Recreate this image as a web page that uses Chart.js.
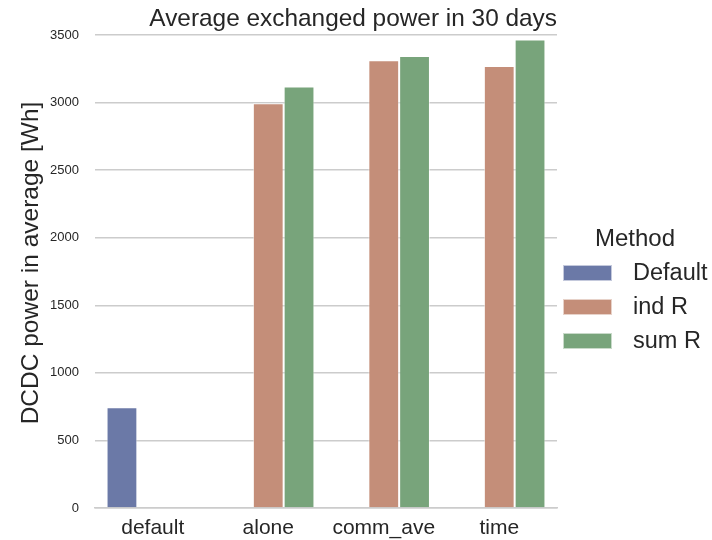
<!DOCTYPE html>
<html>
<head>
<meta charset="utf-8">
<script src="https://cdn.jsdelivr.net/npm/chart.js@4"></script>
<style>
  html, body { margin: 0; padding: 0; background: #fff; }
  #wrap { width: 712px; height: 540px; }
</style>
</head>
<body>
<div id="wrap"><canvas id="powerChart" width="712" height="540"></canvas></div>
<script>
// categories and series
const categories = ["default", "alone", "comm_ave", "time"];
const methods = ["Default", "ind R", "sum R"];
const defaultVals = [745, null, null, null];
const indRVals = [null, 2995, 3313, 3271];
const sumRVals = [null, 3118, 3345, 3466];
const yTicks = [0, 500, 1000, 1500, 2000, 2500, 3000, 3500];

const colors = ["rgb(107,121,167)", "rgb(196,142,121)", "rgb(120,164,123)"];
const textColor = "#262626";
const fontFamily = "'Liberation Sans', Arial, sans-serif";

// y axis title and the legend on the right, placed like the seaborn figure
const sideText = {
  id: "sideText",
  afterDraw(chart) {
    const ctx = chart.ctx;
    ctx.save();
    ctx.fillStyle = textColor;
    ctx.textBaseline = "middle";
    ctx.textAlign = "center";

    ctx.save();
    ctx.translate(31, 263);
    ctx.rotate(-Math.PI / 2);
    ctx.font = "24.5px " + fontFamily;
    ctx.fillText("DCDC power in average [Wh]", 0, 0);
    ctx.restore();

    ctx.font = "24px " + fontFamily;
    ctx.fillText("Method", 635, 239);
    ctx.textAlign = "left";
    ctx.font = "23.5px " + fontFamily;
    chart.data.datasets.forEach((ds, i) => {
      const y = 273 + i * 34;
      ctx.fillStyle = ds.backgroundColor;
      ctx.fillRect(563, y - 8, 49, 16);
      ctx.strokeStyle = "rgba(255,255,255,0.6)";
      ctx.lineWidth = 1;
      ctx.strokeRect(563.5, y - 7.5, 48, 15);
      ctx.fillStyle = textColor;
      ctx.fillText(ds.label, 633, y + 1);
    });
    ctx.restore();
  }
};

const ctx = document.getElementById("powerChart").getContext("2d");
new Chart(ctx, {
  type: "bar",
  data: {
    labels: categories,
    datasets: [
      { label: methods[0], data: defaultVals },
      { label: methods[1], data: indRVals },
      { label: methods[2], data: sumRVals }
    ].map((ds, i) => ({
      ...ds,
      backgroundColor: colors[i],
      borderColor: "rgba(255,255,255,0.55)",
      borderWidth: 1,
      categoryPercentage: 0.8,
      barPercentage: 1.0
    }))
  },
  options: {
    responsive: false,
    animation: false,
    layout: { padding: { left: 0, right: 155, top: 0, bottom: 0 } },
    plugins: {
      legend: { display: false },
      tooltip: { enabled: false },
      title: {
        display: true,
        text: "Average exchanged power in 30 days",
        align: "end",
        color: textColor,
        font: { family: fontFamily, size: 24.4, weight: "normal" },
        padding: { top: 5, bottom: 0.7 }
      }
    },
    scales: {
      x: {
        grid: { display: false, drawTicks: false },
        border: { display: true, color: "#cccccc", width: 1.5 },
        ticks: {
          color: textColor,
          font: { family: fontFamily, size: 21 },
          padding: 8
        },
        afterFit(scale) { scale.height = 32; }
      },
      y: {
        min: 0,
        max: 3500,
        afterBuildTicks(scale) { scale.ticks = yTicks.map(v => ({ value: v })); },
        grid: { color: "#cccccc", lineWidth: 1.5, drawTicks: false },
        border: { display: false },
        ticks: {
          color: textColor,
          font: { family: fontFamily, size: 13 },
          padding: 16,
          callback: (v) => String(v)
        },
        afterFit(scale) { scale.width = 95; }
      }
    }
  },
  plugins: [sideText]
});
</script>
</body>
</html>
